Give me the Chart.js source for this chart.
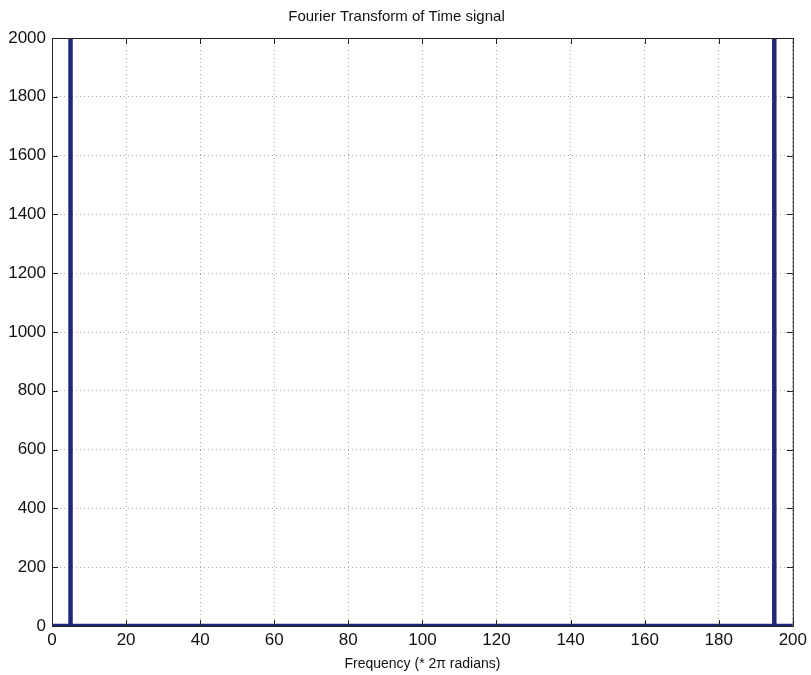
<!DOCTYPE html>
<html>
<head>
<meta charset="utf-8">
<script src="https://cdn.jsdelivr.net/npm/chart.js@4"></script>
<style>
	html, body { margin: 0; padding: 0; background: #fff; }
	#wrap { width: 811px; height: 675px; }
</style>
</head>
<body>
<div id="wrap"><canvas id="fftChart" width="811" height="675"></canvas></div>
<script>
// spectrum samples, frequency (Hz) and magnitude
const freqs = [0, 5, 5, 5, 195, 195, 195, 200];
const magnitudes = [0, 0, 2000, 0, 0, 2000, 0, 0];
const xTicks = [0, 20, 40, 60, 80, 100, 120, 140, 160, 180, 200];
const yTicks = [0, 200, 400, 600, 800, 1000, 1200, 1400, 1600, 1800, 2000];

const points = freqs.map((f, i) => ({ x: f, y: magnitudes[i] }));

const ctx = document.querySelector('#fftChart');

// black frame with small inward tick marks, matlab style
const boxBorder = {
	id: 'boxBorder',
	afterDraw(chart) {
		const { ctx, chartArea: a, scales } = chart;
		ctx.save();
		ctx.strokeStyle = '#222';
		ctx.lineWidth = 1;
		ctx.strokeRect(a.left + 0.5, a.top + 0.5, a.right - a.left, a.bottom - a.top);
		ctx.beginPath();
		xTicks.forEach(v => {
			const px = Math.round(scales.x.getPixelForValue(v)) + 0.5;
			ctx.moveTo(px, a.bottom); ctx.lineTo(px, a.bottom - 6);
			ctx.moveTo(px, a.top); ctx.lineTo(px, a.top + 6);
		});
		yTicks.forEach(v => {
			const py = Math.round(scales.y.getPixelForValue(v)) + 0.5;
			ctx.moveTo(a.left, py); ctx.lineTo(a.left + 6, py);
			ctx.moveTo(a.right, py); ctx.lineTo(a.right - 6, py);
		});
		ctx.stroke();
		ctx.restore();
	},
};

const myChart = new Chart(ctx, {
	type: 'line',
	data: {
		datasets: [
			{
				label: 'FFT',
				data: points,
				borderColor: '#1e2a78',
				backgroundColor: '#1e2a78',
				borderWidth: 4.5,
				pointRadius: 0,
				tension: 0,
			},
		],
	},
	options: {
		responsive: false,
		animation: false,
		layout: { padding: { left: 0, right: 18, top: 0, bottom: 0 } },
		plugins: {
			legend: { display: false },
			tooltip: { enabled: false },
			title: {
				display: true,
				text: 'Fourier Transform of Time signal',
				color: '#111',
				font: { family: 'Liberation Sans, Arial', size: 15, weight: 'normal' },
				padding: { top: 8, bottom: 12 },
			},
		},
		scales: {
			x: {
				type: 'linear',
				min: 0,
				max: 200,
				afterBuildTicks: scale => { scale.ticks = xTicks.map(v => ({ value: v })); },
				afterFit: scale => { scale.height = 49; },
				ticks: {
					color: '#111',
					font: { family: 'Liberation Sans, Arial', size: 17 },
					padding: 4,
					maxRotation: 0,
					callback: v => String(v),
				},
				grid: {
					color: '#aaa',
					drawTicks: false,
				},
				border: { display: false, dash: [1, 3] },
				title: {
					display: true,
					text: 'Frequency (* 2\u03c0 radians)',
					color: '#111',
					font: { family: 'Liberation Sans, Arial', size: 14 },
					padding: { top: 0, bottom: 2 },
				},
			},
			y: {
				min: 0,
				max: 2000,
				afterBuildTicks: scale => { scale.ticks = yTicks.map(v => ({ value: v })); },
				afterFit: scale => { scale.width = 52; },
				ticks: {
					color: '#111',
					font: { family: 'Liberation Sans, Arial', size: 17 },
					padding: 6,
					callback: v => String(v),
				},
				grid: {
					color: '#aaa',
					drawTicks: false,
				},
				border: { display: false, dash: [1, 3] },
			},
		},
	},
	plugins: [boxBorder],
});
</script>
</body>
</html>
